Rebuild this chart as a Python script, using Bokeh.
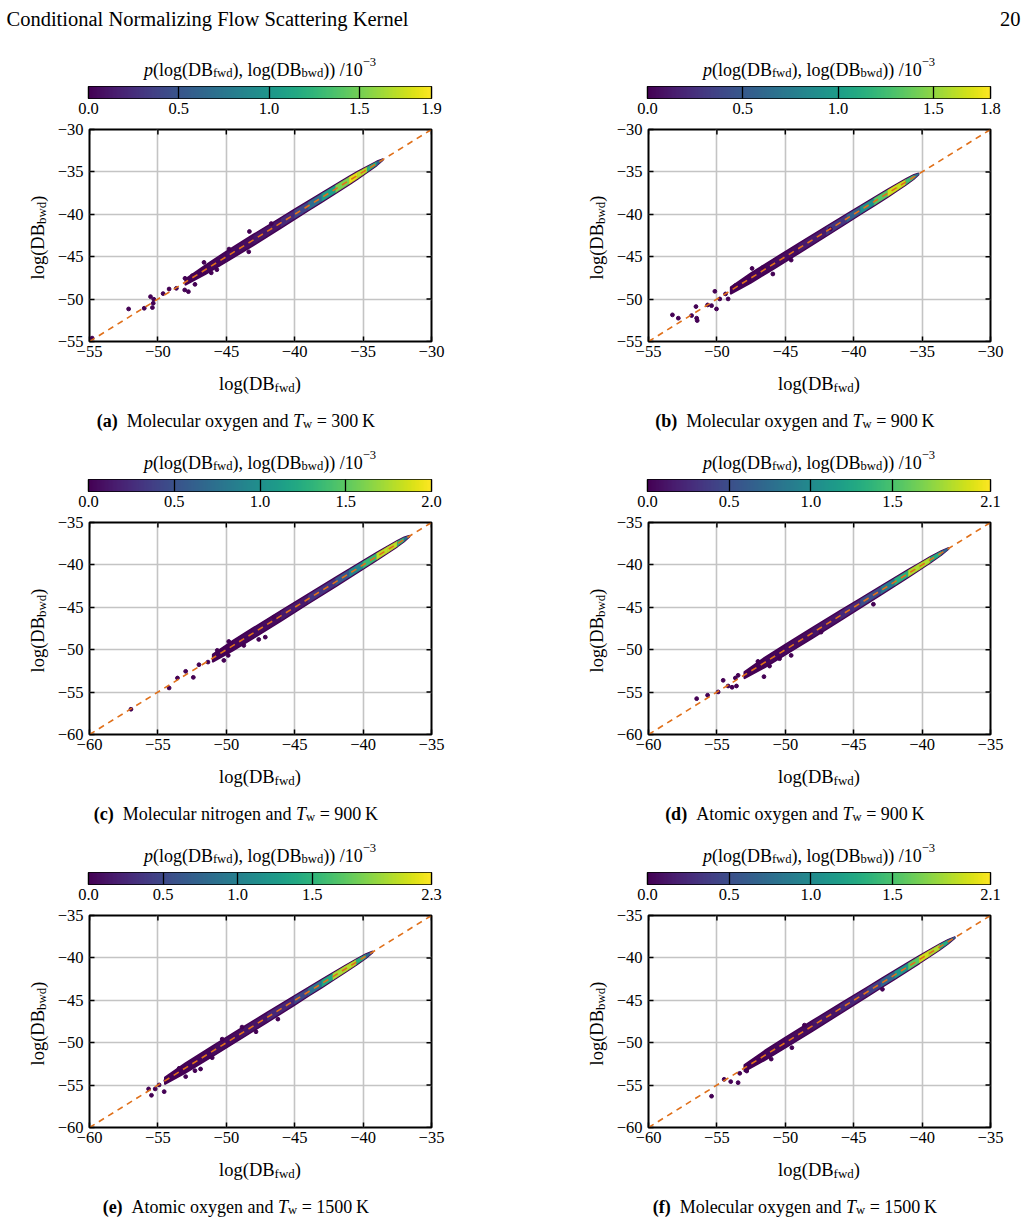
import numpy as np
from bokeh.plotting import figure
from bokeh.models import (Range1d, FixedTicker, LinearColorMapper, PrintfTickFormatter,
                          CustomJSTickFormatter, Label)
from bokeh.palettes import Viridis256
from bokeh.layouts import column, row
from bokeh.embed import file_html
from bokeh.resources import INLINE

FONT = "Liberation Serif"

# ---------------------------------------------------------------- data
# axis limits (same on x and y) and colour-bar maxima (units of 1e-3)
axis_lo = [-55, -55, -60, -60, -60, -60]
axis_hi = [-30, -30, -35, -35, -35, -35]
cbar_max = [1.9, 1.8, 2.0, 2.1, 2.3, 2.1]
cbar_ticks = [0.0, 0.5, 1.0, 1.5]

captions = [
    ("(a)", "Molecular oxygen", "300"),
    ("(b)", "Molecular oxygen", "900"),
    ("(c)", "Molecular nitrogen", "900"),
    ("(d)", "Atomic oxygen", "900"),
    ("(e)", "Atomic oxygen", "1500"),
    ("(f)", "Molecular oxygen", "1500"),
]

# dense ridge along the diagonal: stations (log DB_fwd), vertical half width, density / 1e-3
band_x_a = [-48.0, -46.5, -45.0, -43.0, -41.0, -40.0, -39.0, -38.0, -37.0, -36.0, -35.4, -34.7, -34.0, -33.55]
band_hw_a = [0.35, 0.55, 0.62, 0.65, 0.62, 0.60, 0.58, 0.56, 0.54, 0.50, 0.45, 0.36, 0.25, 0.08]
band_p_a = [0.0, 0.02, 0.04, 0.08, 0.15, 0.30, 0.50, 0.85, 1.30, 1.75, 1.90, 1.50, 0.90, 0.40]

band_x_b = [-49.0, -47.5, -46.0, -44.0, -42.0, -40.5, -39.5, -38.5, -37.5, -36.8, -36.2, -35.6, -35.25]
band_hw_b = [0.40, 0.58, 0.60, 0.60, 0.58, 0.55, 0.52, 0.50, 0.46, 0.42, 0.36, 0.26, 0.08]
band_p_b = [0.0, 0.02, 0.04, 0.08, 0.18, 0.40, 0.70, 1.10, 1.55, 1.80, 1.50, 1.00, 0.50]

band_x_c = [-51.0, -49.5, -48.0, -46.0, -44.0, -42.0, -41.0, -40.0, -39.0, -38.2, -37.5, -37.0, -36.6]
band_hw_c = [0.45, 0.60, 0.62, 0.62, 0.58, 0.55, 0.52, 0.50, 0.46, 0.42, 0.36, 0.26, 0.08]
band_p_c = [0.0, 0.02, 0.04, 0.08, 0.20, 0.40, 0.70, 1.10, 1.60, 2.00, 1.60, 1.00, 0.50]

band_x_d = [-53.0, -51.5, -50.0, -48.0, -46.0, -44.5, -43.0, -42.0, -41.0, -40.2, -39.4, -38.6, -38.05]
band_hw_d = [0.40, 0.60, 0.62, 0.62, 0.60, 0.56, 0.52, 0.50, 0.46, 0.42, 0.36, 0.26, 0.08]
band_p_d = [0.0, 0.02, 0.04, 0.08, 0.15, 0.35, 0.65, 1.05, 1.60, 2.10, 1.60, 1.00, 0.50]

band_x_e = [-54.5, -53.0, -51.0, -49.0, -47.0, -45.0, -44.0, -43.0, -42.2, -41.3, -40.5, -39.8, -39.3]
band_hw_e = [0.40, 0.58, 0.62, 0.62, 0.60, 0.56, 0.52, 0.50, 0.46, 0.42, 0.36, 0.26, 0.08]
band_p_e = [0.0, 0.02, 0.04, 0.08, 0.15, 0.35, 0.65, 1.10, 1.70, 2.30, 1.80, 1.10, 0.50]

band_x_f = [-53.0, -51.5, -50.0, -48.0, -46.0, -44.0, -43.0, -42.0, -41.0, -40.2, -39.5, -38.7, -38.1, -37.6]
band_hw_f = [0.40, 0.58, 0.62, 0.62, 0.60, 0.56, 0.54, 0.52, 0.50, 0.46, 0.42, 0.36, 0.26, 0.08]
band_p_f = [0.0, 0.02, 0.04, 0.08, 0.15, 0.30, 0.50, 0.85, 1.35, 1.80, 2.10, 1.60, 1.00, 0.50]

# isolated low-density samples
out_x_a = [-54.81, -52.14, -51.00, -50.54, -50.30, -50.34, -50.40, -49.62, -49.18, -48.65, -48.02, -48.04,
           -47.77, -47.29, -47.48, -46.63, -45.69, -43.31, -43.36, -41.71, -44.8, -46.1]
out_y_a = [-54.60, -51.16, -51.08, -49.71, -50.02, -50.49, -51.00, -49.35, -48.81, -48.73, -47.55, -48.92,
           -49.12, -48.26, -47.24, -45.67, -46.53, -42.03, -44.42, -41.09, -44.1, -46.9]

out_x_b = [-53.25, -52.82, -51.85, -51.48, -51.44, -51.53, -50.68, -50.39, -50.15, -50.03, -49.79, -49.18,
           -49.37, -48.65, -47.43, -46.63, -45.91, -44.57, -41.71]
out_y_b = [-51.86, -52.25, -51.94, -52.25, -52.53, -50.88, -50.69, -50.77, -49.08, -51.16, -49.98, -49.98,
           -49.39, -48.41, -46.38, -46.26, -47.04, -45.40, -41.75]

out_x_c = [-56.97, -54.18, -53.57, -52.97, -52.41, -52.00, -51.34, -50.66, -50.18, -49.86, -49.82, -48.72,
           -47.63, -47.15, -46.54]
out_y_c = [-57.02, -54.51, -53.34, -52.55, -53.26, -51.77, -51.46, -50.08, -51.26, -50.67, -49.03, -49.50,
           -48.79, -48.52, -46.17]

out_x_d = [-56.48, -55.68, -54.91, -54.54, -54.18, -53.89, -53.65, -53.57, -53.45, -51.56, -52.00, -51.15,
           -50.42, -49.57, -47.39, -43.56]
out_y_d = [-55.77, -55.37, -54.98, -53.61, -54.28, -54.43, -53.34, -54.28, -53.02, -53.18, -51.38, -51.93,
           -51.06, -50.67, -47.93, -44.64]

out_x_e = [-55.68, -55.47, -55.20, -54.91, -54.54, -54.42, -53.45, -52.97, -52.29, -51.88, -50.30, -51.03,
           -48.85, -47.83, -46.23]
out_y_e = [-55.45, -56.20, -55.45, -54.98, -55.77, -54.47, -53.02, -54.00, -53.30, -53.10, -49.58, -51.77,
           -48.16, -48.71, -47.22]

out_x_f = [-55.39, -54.47, -53.99, -53.45, -53.33, -52.82, -52.82, -52.00, -51.03, -49.52, -48.60, -42.90]
out_y_f = [-56.31, -54.32, -54.59, -54.71, -53.61, -52.94, -53.34, -52.24, -51.93, -50.59, -47.93, -43.70]

bands = [(band_x_a, band_hw_a, band_p_a), (band_x_b, band_hw_b, band_p_b), (band_x_c, band_hw_c, band_p_c),
         (band_x_d, band_hw_d, band_p_d), (band_x_e, band_hw_e, band_p_e), (band_x_f, band_hw_f, band_p_f)]
outliers = [(out_x_a, out_y_a), (out_x_b, out_y_b), (out_x_c, out_y_c),
            (out_x_d, out_y_d), (out_x_e, out_y_e), (out_x_f, out_y_f)]

# ---------------------------------------------------------------- layout / style
COL_W = [559, 468]          # width of the left / right half of the page
COL_RIGHT = [128, 37]       # space right of each plotting frame
YLAB_W = 54                 # strip holding the rotated y label
TOP_H = [82, 36, 36]        # strip above each colour bar (header + colour-bar title)
CBAR_H = 36
PLOT_H = 245
BOT_H = [76, 76, 71]        # strip below each panel (x label + caption)
DARK = "#440154"
ORANGE = "#e0701a"

# Times-compatible advance widths (1/1000 em) used to lay out mixed-style text
W_R = {' ': 250, '(': 333, ')': 333, ',': 250, '.': 250, '/': 278, '=': 564, '\u2212': 564, '\u2009': 167,
       'A': 722, 'B': 667, 'C': 667, 'D': 722, 'F': 556, 'K': 722, 'M': 889, 'N': 722, 'S': 556, 'T': 611,
       'a': 444, 'b': 500, 'c': 444, 'd': 500, 'e': 444, 'f': 333, 'g': 500, 'h': 500, 'i': 278, 'k': 500,
       'l': 278, 'm': 778, 'n': 500, 'o': 500, 'p': 500, 'r': 333, 's': 389, 't': 278, 'u': 500, 'v': 500,
       'w': 722, 'x': 500, 'y': 500, 'z': 444}
W_B = {'(': 333, ')': 333, 'a': 500, 'b': 556, 'c': 444, 'd': 556, 'e': 444, 'f': 333}
W_I = {'p': 500, 'T': 556}


def seg_width(txt, kind, size):
    table = W_B if kind == "b" else (W_I if kind == "i" else W_R)
    return sum(table.get(ch, W_R.get(ch, 500)) for ch in txt) * size / 1000.0


def rich(p, parts, x, y, size, align="center", angle=0.0):
    """Place text made of normal / bold / italic / sub / superscript pieces (strip pixels, y up)."""
    small = 0.7
    sizes = [size * small if k in ("sub", "sup") else size for _, k in parts]
    widths = [seg_width(t, k, s) for (t, k), s in zip(parts, sizes)]
    total = sum(widths)
    acc = {"left": 0.0, "center": -total / 2.0, "right": -total}[align]
    for (txt, kind), s, w in zip(parts, sizes, widths):
        body = txt.lstrip(" ")
        lead = seg_width(txt[:len(txt) - len(body)], kind, s)
        body = body.rstrip(" ")
        off = -0.22 * size if kind == "sub" else (0.42 * size if kind == "sup" else 0.0)
        if angle == 0:
            lx, ly = x + acc + lead, y + off
        else:
            lx, ly = x - off, y + acc + lead
        style = "bold" if kind == "b" else ("italic" if kind == "i" else "normal")
        if body:
            p.add_layout(Label(x=lx, y=ly, text=body, angle=angle,
                               text_font=FONT, text_font_size=f"{s:.1f}px", text_font_style=style,
                               text_align="left", text_baseline="alphabetic", text_color="black"))
        acc += w


def strip(w, h):
    """Blank canvas whose data units are pixels, used for free text."""
    s = figure(width=w, height=h, x_range=Range1d(0, w), y_range=Range1d(0, h),
               output_backend="svg", toolbar_location=None, title=None,
               x_axis_type=None, y_axis_type=None, min_border=0, frame_align=False,
               outline_line_color=None, background_fill_color="white", border_fill_color="white")
    return s


def viridis(v, vmax):
    i = int(round(max(0.0, min(1.0, v / vmax)) * 255))
    return Viridis256[i]


minus_fmt = "return (tick < 0 ? '\\u2212' : '') + Math.abs(tick).toFixed(0);"

panels = []
for k in range(6):
    r, c = divmod(k, 2)
    lo, hi = axis_lo[k], axis_hi[k]
    cmax = cbar_max[k]
    ticks = list(range(lo, hi + 1, 5))

    # ---- text strip above the colour bar
    top = strip(COL_W[c], TOP_H[r])
    rich(top, [("p", "i"), ("(log(DB", "r"), ("fwd", "sub"), ("), log(DB", "r"), ("bwd", "sub"),
               (")) /10", "r"), ("\u22123", "sup")], 88 + 171.5, 13, 18)
    if k == 0:
        rich(top, [("Conditional Normalizing Flow Scattering Kernel", "r")], 6, 63.7, 20.5, align="left")
    if k == 1:
        rich(top, [("20", "r")], 461, 63.7, 20.5, align="right")

    # ---- colour bar
    mapper = LinearColorMapper(palette=Viridis256, low=0.0, high=cmax)
    cf = figure(width=COL_W[c], height=CBAR_H, x_range=Range1d(0, cmax), y_range=Range1d(0, 1),
                output_backend="svg", toolbar_location=None, title=None, y_axis_type=None,
                min_border_left=88, min_border_right=COL_RIGHT[c], min_border_top=4, min_border_bottom=20,
                frame_align=False, background_fill_color="white", border_fill_color="white")
    ramp = np.linspace(0.0, cmax, 256).reshape(1, 256)
    cf.image(image=[ramp], x=0, y=0, dw=cmax, dh=1, color_mapper=mapper)
    cf.grid.visible = False
    cf.outline_line_color = "black"
    cf.outline_line_width = 1.2
    cax = cf.xaxis[0]
    cax.ticker = FixedTicker(ticks=cbar_ticks + [cmax])
    cax.formatter = PrintfTickFormatter(format="%.1f")
    cax.axis_line_color = None
    cax.major_tick_in = 12
    cax.major_tick_out = 0
    cax.major_tick_line_color = "black"
    cax.major_tick_line_width = 1.3
    cax.minor_tick_line_color = None
    cax.major_label_standoff = 4
    cax.major_label_text_font = FONT
    cax.major_label_text_font_size = "16.5px"
    cax.major_label_text_color = "black"

    # ---- rotated y label
    yl = strip(YLAB_W, PLOT_H)
    rich(yl, [("log(DB", "r"), ("bwd", "sub"), (")", "r")], 37, 126, 18.5, angle=1.5707963)

    # ---- scatter panel
    p = figure(width=COL_W[c] - YLAB_W, height=PLOT_H, x_range=Range1d(lo, hi), y_range=Range1d(lo, hi),
               output_backend="svg", toolbar_location=None, title=None,
               min_border_left=88 - YLAB_W, min_border_right=COL_RIGHT[c],
               min_border_top=11, min_border_bottom=22, frame_align=False,
               background_fill_color="white", border_fill_color="white")
    p.outline_line_color = "black"
    p.outline_line_width = 2
    for ax in (p.xaxis[0], p.yaxis[0]):
        ax.ticker = FixedTicker(ticks=ticks)
        ax.formatter = CustomJSTickFormatter(code=minus_fmt)
        ax.axis_line_color = None
        ax.major_tick_in = 5
        ax.major_tick_out = 0
        ax.major_tick_line_width = 1.5
        ax.major_tick_line_color = "black"
        ax.minor_tick_line_color = None
        ax.major_label_text_font = FONT
        ax.major_label_text_font_size = "16.5px"
        ax.major_label_text_color = "black"
    p.yaxis.major_label_standoff = 6
    p.xaxis.major_label_standoff = 4
    p.grid.ticker = FixedTicker(ticks=ticks)
    p.grid.grid_line_color = "#c4c4c4"
    p.grid.grid_line_width = 1.6

    # ridge: purple envelope, density-coloured core
    bx, bhw, bp = bands[k]
    env_x = list(bx) + list(bx[::-1])
    env_y = [x + w for x, w in zip(bx, bhw)] + [x - w for x, w in zip(bx[::-1], bhw[::-1])]
    p.patch(env_x, env_y, fill_color=DARK, line_color=DARK, line_width=1.5)
    xs, ys, cols = [], [], []
    core = 0.8
    for i in range(len(bx) - 1):
        x0, x1 = bx[i], bx[i + 1]
        w0, w1 = bhw[i] * core, bhw[i + 1] * core
        xs.append([x0, x1, x1, x0])
        ys.append([x0 + w0, x1 + w1, x1 - w1, x0 - w0])
        cols.append(viridis(0.5 * (bp[i] + bp[i + 1]), cmax))
    p.patches(xs, ys, fill_color=cols, line_color=cols, line_width=0.6)

    ox, oy = outliers[k]
    p.scatter(ox, oy, size=3.8, marker="circle", fill_color=DARK, line_color=DARK)

    # identity line
    p.line([lo, hi], [lo, hi], line_color=ORANGE, line_width=1.6, line_dash="6 5")

    # tick marks mirrored on the top and right edges (outer half falls outside the frame)
    n = len(ticks)
    p.scatter(ticks, [hi] * n, marker="dash", angle=1.5707963, size=10, line_color="black", line_width=1.5)
    p.scatter([hi] * n, ticks, marker="dash", size=10, line_color="black", line_width=1.5)

    # ---- text strip below: x label and caption
    bot = strip(COL_W[c], BOT_H[r])
    rich(bot, [("log(DB", "r"), ("fwd", "sub"), (")", "r")], 88 + 171.5, BOT_H[r] - 20, 18.5)
    tag, what, temp = captions[k]
    rich(bot, [(tag, "b"), ("  " + what + " and ", "r"), ("T", "i"), ("w", "sub"),
               (" = " + temp + "\u2009K", "r")], 235, BOT_H[r] - 57, 18)

    panels.append(column(top, cf, row(yl, p), bot))

page = column(row(panels[0], panels[1]), row(panels[2], panels[3]), row(panels[4], panels[5]))
open("out.html", "w").write(file_html(page, INLINE))
